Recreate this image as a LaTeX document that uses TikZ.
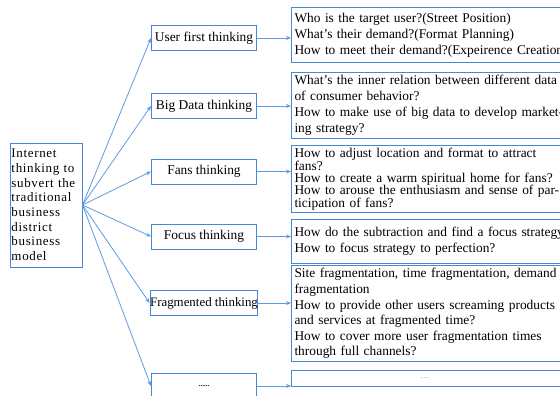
\documentclass[tikz,border=0pt]{standalone}
\usepackage{fontspec}
\setmainfont{Liberation Serif}
\usetikzlibrary{arrows.meta}
\definecolor{bl}{RGB}{70,135,215}
\definecolor{al}{RGB}{95,155,225}
\begin{document}
\begin{tikzpicture}[x=1pt,y=-1pt,
  font=\fontsize{13.4}{16}\selectfont,
  box/.style={draw=bl, line width=1pt, inner sep=2pt},
  mid/.style={box, minimum width=105pt, minimum height=25pt, align=center},
  rbox/.style={box, anchor=north west, text width=300pt, align=left, inner sep=3pt},
  arr/.style={draw=al, line width=0.8pt, -{Stealth[length=5pt,width=4pt]}}]
\useasboundingbox (0,0) rectangle (560,396);
\clip (0,0) rectangle (560,396);
\fill[white] (0,0) rectangle (560,396);
% left box
\node[box, minimum width=72pt, minimum height=124pt, text width=69pt, align=left, inner sep=1.5pt,
  font=\fontsize{13}{14.7}\selectfont\addfontfeatures{LetterSpace=5}] (L) at (46,205)
  {Internet\\thinking to\\subvert the\\traditional\\business\\district\\business\\model};
% middle boxes
\node[mid] (m1) at (204,38) {User first thinking};
\node[mid] (m2) at (204,106) {Big Data thinking};
\node[mid] (m3) at (204,171.5) {Fans thinking};
\node[mid] (m4) at (204,236.5) {Focus thinking};
\node[mid, inner sep=0pt, font=\fontsize{12.9}{15}\selectfont] (m5) at (204,303) {Fragmented thinking};
\node[mid, minimum height=26pt] (m6) at (204,386) {\fontsize{7}{8}\selectfont\bfseries ......};
% right boxes
\node[rbox, minimum height=55pt] (r1) at (291,7)
  {Who is the target user?(Street Position)\\What’s their demand?(Format Planning)\\How to meet their demand?(Expeirence Creation)};
\node[rbox, minimum height=65pt] (r2) at (291,72)
  {What’s the inner relation between different data\\of consumer behavior?\\How to make use of big data to develop market-\\ing strategy?};
\node[rbox, minimum height=67pt, font=\fontsize{13.4}{12.3}\selectfont] (r3) at (291,145)
  {How to adjust location and format to attract\\fans?\\How to create a warm spiritual home for fans?\\How to arouse the enthusiasm and sense of par-\\ticipation of fans?};
\node[rbox, minimum height=44pt] (r4) at (291,219)
  {How do the subtraction and find a focus strategy?\\How to focus strategy to perfection?};
\node[rbox, minimum height=92pt, font=\fontsize{13.4}{15.6}\selectfont] (r5) at (291,265)
  {Site fragmentation, time fragmentation, demand\\fragmentation\\How to provide other users screaming products\\and services at fragmented time?\\How to cover more user fragmentation times\\through full channels?};
\node[rbox, minimum height=16pt, inner sep=0pt] (r6) at (291,370) {};
\node[text=gray, font=\fontsize{6}{7}\selectfont] (d6) at (425,378) {......};
% connectors
\foreach \i in {1,...,6} {
  \draw[arr] (L.east) -- (m\i.west);
  \draw[arr] (m\i.east) -- (m\i.east -| r\i.west);
}
\end{tikzpicture}
\end{document}
